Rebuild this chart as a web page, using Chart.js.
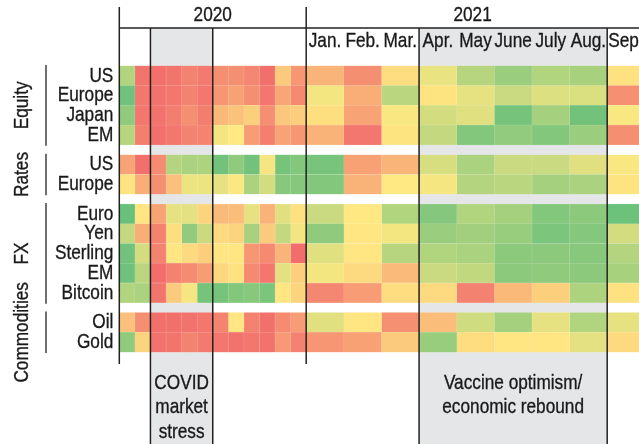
<!DOCTYPE html>
<html>
<head>
<meta charset="utf-8">
<script src="https://cdn.jsdelivr.net/npm/chart.js@4.4.0/dist/chart.umd.min.js"></script>
<style>
  html, body { margin: 0; padding: 0; background: #fff; }
  #wrap { width: 639px; height: 444px; position: relative; }
</style>
</head>
<body>
<div id="wrap"><canvas id="heat"></canvas></div>
<script>
// ---- data ----
const years = ['2020', '2021'];
const months2020 = ['Jan', 'Feb', 'Mar', 'Apr', 'May', 'Jun', 'Jul', 'Aug', 'Sep', 'Oct', 'Nov', 'Dec'];
const months2021 = ['Jan.', 'Feb.', 'Mar.', 'Apr.', 'May', 'June', 'July', 'Aug.', 'Sep.'];

const groupNames = ['Equity', 'Rates', 'FX', 'Commodities'];
const groupSizes = [4, 2, 5, 2];
const rowLabels = ['US', 'Europe', 'Japan', 'EM', 'US', 'Europe', 'Euro', 'Yen', 'Sterling', 'EM', 'Bitcoin', 'Oil', 'Gold'];

// 0 = worst (red), 5 = neutral (yellow), 10 = best (green)
const scores2020 = [
  [7.5, 0.5, 0.3, 0.5, 1.0, 0.7, 1.5, 1.5, 1.2, 0.3, 3.8, 1.8],
  [9.5, 0.6, 0.4, 0.6, 1.0, 0.6, 1.8, 2.2, 1.5, 0.6, 2.4, 1.3],
  [8.6, 0.6, 0.4, 0.8, 1.5, 0.8, 3.1, 3.5, 4.0, 1.5, 3.7, 3.9],
  [7.3, 0.9, 0.3, 0.6, 1.0, 1.1, 5.4, 5.0, 2.0, 0.9, 2.3, 1.8],
  [2.3, 0.3, 1.4, 7.4, 7.7, 7.6, 9.5, 8.6, 9.5, 5.3, 9.4, 9.0],
  [4.8, 2.7, 1.5, 3.4, 5.6, 5.6, 5.8, 5.1, 7.7, 6.4, 8.8, 8.9],
  [9.8, 4.9, 2.3, 5.8, 5.9, 4.2, 3.2, 3.3, 5.8, 2.9, 6.0, 4.7],
  [6.9, 2.7, 1.0, 4.6, 8.5, 6.7, 4.4, 4.2, 7.8, 3.8, 6.9, 5.4],
  [9.5, 6.4, 1.0, 4.9, 4.4, 4.0, 4.9, 4.9, 1.8, 1.3, 3.0, 0.2],
  [9.6, 7.2, 0.2, 1.0, 1.4, 2.0, 4.3, 4.7, 1.3, 0.6, 5.9, 4.0],
  [7.5, 7.7, 0.5, 3.8, 5.3, 9.4, 9.4, 9.0, 8.8, 9.2, 4.9, 4.2],
  [3.4, 1.5, 0.3, 0.3, 0.4, 0.6, 1.1, 4.9, 1.0, 0.3, 1.4, 2.0],
  [8.6, 4.2, 0.4, 0.5, 1.0, 0.7, 0.6, 0.4, 0.6, 0.4, 1.9, 1.0]
];
const scores2021 = [
  [3.0, 1.5, 4.5, 5.7, 7.3, 8.2, 7.5, 7.8, 4.7],
  [5.4, 2.7, 7.2, 4.8, 5.8, 6.7, 6.1, 6.2, 1.6],
  [4.6, 2.3, 5.2, 6.4, 6.0, 9.4, 7.9, 9.5, 5.2],
  [2.9, 0.6, 4.8, 6.9, 9.0, 8.5, 9.0, 8.2, 1.5],
  [9.3, 2.2, 3.0, 6.3, 7.7, 6.7, 6.7, 6.0, 5.2],
  [9.0, 2.9, 5.0, 5.3, 7.4, 7.2, 7.9, 7.7, 4.8],
  [6.7, 4.95, 7.5, 8.9, 7.5, 7.9, 9.0, 8.7, 9.7],
  [8.6, 4.9, 5.4, 8.2, 8.0, 8.3, 9.2, 8.9, 6.4],
  [6.0, 4.9, 7.3, 7.5, 7.7, 8.7, 8.7, 8.8, 7.4],
  [5.4, 4.4, 3.2, 6.7, 7.0, 8.7, 8.6, 8.7, 7.8],
  [1.2, 2.0, 4.5, 4.4, 1.0, 3.1, 4.0, 7.6, 4.7],
  [6.0, 4.9, 1.6, 3.3, 6.5, 7.9, 5.8, 7.5, 5.8],
  [1.8, 2.2, 3.8, 8.3, 4.5, 4.9, 4.9, 5.9, 4.4]
];

// shaded periods: first and last column (2020 cols 0-11, 2021 cols 12-20)
const periodCols = [[2, 5], [15, 19]];
const periodNotes = [['COVID', 'market', 'stress'], ['Vaccine optimism/', 'economic rebound']];

// ---- layout ----
const FONT = '"Liberation Sans", Arial, sans-serif';
const FONT_SIZE = 21;
const NARROW = 0.82;      // squeeze text to look like a condensed face
const INK = '#1a1a1a';
const W2021 = 2.416;      // 2021 months drawn wider than 2020 months
const GROUP_GAP = 0.5;
const X_MAX = 33.37;

const colStart = k => k < 12 ? k : 12 + (k - 12) * W2021;

const rowPos = [];
let p = 0;
groupSizes.forEach(n => {
  for (let i = 0; i < n; i++) rowPos.push(p++);
  p += GROUP_GAP;
});
const Y_MAX = rowPos[rowPos.length - 1] + 0.5;

const RED = [241, 104, 107], YELLOW = [255, 233, 130], GREEN = [99, 190, 123];
function mix(a, b, f) { return a.map((v, i) => Math.round(v + (b[i] - v) * f)); }
function scoreRgb(v) {
  const t = Math.max(0, Math.min(10, v)) / 10;
  return t < 0.5 ? mix(RED, YELLOW, t * 2) : mix(YELLOW, GREEN, (t - 0.5) * 2);
}
const scoreColor = v => `rgb(${scoreRgb(v).join(',')})`;
const scoreEdge = v => `rgb(${mix(scoreRgb(v), [255, 255, 255], 0.3).join(',')})`;

const columnLabels = [...months2020.map(m => m + ' 2020'), ...months2021.map(m => m + ' 2021')];
const columnScores = k => k < 12 ? scores2020.map(r => r[k]) : scores2021.map(r => r[k - 12]);

const datasets = columnLabels.map((label, k) => ({
  label,
  data: rowPos.map(y => ({ x: [colStart(k), colStart(k + 1)], y })),
  backgroundColor: columnScores(k).map(scoreColor),
  borderColor: columnScores(k).map(scoreEdge),
  borderWidth: 0.5,
  borderSkipped: false,
  grouped: false,
  barPercentage: 1,
  categoryPercentage: 1,
  xAxisID: 'x',
  yAxisID: 'y'
}));

const noPad = s => { s.paddingLeft = 0; s.paddingRight = 0; s.paddingTop = 0; s.paddingBottom = 0; };

// condensed text helper (a thin stroke keeps the squeezed stems from looking too light)
function narrowText(ctx, text, x, y, align, rotate) {
  ctx.save();
  ctx.translate(x, y);
  if (rotate) ctx.rotate(rotate);
  ctx.scale(NARROW, 1);
  ctx.textAlign = align;
  ctx.fillText(text, 0, 0);
  ctx.strokeText(text, 0, 0);
  ctx.restore();
}

const framePlugin = {
  id: 'frame',
  beforeDraw(chart) {
    const { ctx, scales: { x } } = chart;
    ctx.save();
    ctx.fillStyle = '#e5e6e8';
    periodCols.forEach(([a, b]) => {
      const x0 = x.getPixelForValue(colStart(a)), x1 = x.getPixelForValue(colStart(b + 1));
      ctx.fillRect(x0, x.top, x1 - x0, chart.height - x.top);
    });
    ctx.restore();
  },
  afterDraw(chart) {
    const { ctx, chartArea, scales: { x, y, year } } = chart;
    ctx.save();
    ctx.strokeStyle = '#222';
    ctx.lineWidth = 1.5;
    const vline = (px, y0, y1) => { ctx.beginPath(); ctx.moveTo(px, y0); ctx.lineTo(px, y1); ctx.stroke(); };

    // year separators and header rule
    [0, 12].forEach(k => vline(x.getPixelForValue(colStart(k)), year.top + 7, chartArea.bottom));
    ctx.beginPath();
    ctx.moveTo(x.getPixelForValue(0), x.top);
    ctx.lineTo(chart.width, x.top);
    ctx.stroke();

    // period edges
    periodCols.forEach(([a, b]) => {
      vline(x.getPixelForValue(colStart(a)), x.top, chart.height);
      vline(x.getPixelForValue(colStart(b + 1)), x.top, chart.height);
    });

    // group brackets
    ctx.lineWidth = 1.3;
    const spans = [];
    let start = 0;
    groupSizes.forEach(n => {
      const top = y.getPixelForValue(rowPos[start] - 0.5);
      const bottom = y.getPixelForValue(rowPos[start + n - 1] + 0.5);
      vline(46, top - 1, bottom + 1);
      spans.push((top + bottom) / 2);
      start += n;
    });

    // text
    ctx.fillStyle = INK;
    ctx.strokeStyle = INK;
    ctx.lineWidth = 0.35;
    ctx.font = `${FONT_SIZE}px ${FONT}`;
    ctx.textBaseline = 'middle';

    year.ticks.forEach(t => narrowText(ctx, t.label, year.getPixelForValue(t.value), year.top + 15, 'center'));
    x.ticks.forEach(t => narrowText(ctx, t.label, x.getPixelForValue(t.value), x.top + 13, 'center'));
    y.ticks.forEach(t => narrowText(ctx, t.label, y.right - 6, y.getPixelForValue(t.value), 'right'));
    groupNames.forEach((name, g) => narrowText(ctx, name, 22.5, spans[g], 'center', -Math.PI / 2));

    periodCols.forEach(([a, b], i) => {
      const cx = (x.getPixelForValue(colStart(a)) + x.getPixelForValue(colStart(b + 1))) / 2;
      periodNotes[i].forEach((line, j) => narrowText(ctx, line, cx, chartArea.bottom + 19 + j * 24.5, 'center'));
    });
    ctx.restore();
  }
};

const hiddenTicks = { font: { family: FONT, size: FONT_SIZE }, color: 'rgba(0,0,0,0)', autoSkip: false, maxRotation: 0, minRotation: 0 };

new Chart(document.getElementById('heat'), {
  type: 'bar',
  data: { datasets },
  options: {
    indexAxis: 'y',
    responsive: true,
    maintainAspectRatio: false,
    animation: false,
    layout: { padding: { top: 0, right: 0, bottom: 80, left: 0 } },
    plugins: { legend: { display: false }, tooltip: { enabled: false } },
    scales: {
      x: {
        type: 'linear', position: 'top', weight: 0, min: 0, max: X_MAX,
        grid: { display: false, drawTicks: false }, border: { display: false },
        afterBuildTicks: s => { s.ticks = months2021.map((m, j) => ({ value: colStart(12 + j) + W2021 / 2 })); },
        ticks: { ...hiddenTicks, callback: (v, i) => months2021[i] },
        afterFit: s => { s.height = 26; noPad(s); }
      },
      year: {
        type: 'linear', position: 'top', weight: 1, min: 0, max: X_MAX,
        grid: { display: false, drawTicks: false }, border: { display: false },
        afterBuildTicks: s => { s.ticks = [{ value: 6 }, { value: (12 + X_MAX) / 2 }]; },
        ticks: { ...hiddenTicks, callback: (v, i) => years[i] },
        afterFit: s => { s.height = 28; noPad(s); }
      },
      y: {
        type: 'linear', reverse: true, min: -0.5, max: Y_MAX,
        grid: { display: false, drawTicks: false }, border: { display: false },
        afterBuildTicks: s => { s.ticks = rowPos.map(v => ({ value: v })); },
        ticks: { ...hiddenTicks, callback: (v, i) => rowLabels[i] },
        afterFit: s => { s.width = 119.3; noPad(s); }
      }
    }
  },
  plugins: [framePlugin]
});
</script>
</body>
</html>
